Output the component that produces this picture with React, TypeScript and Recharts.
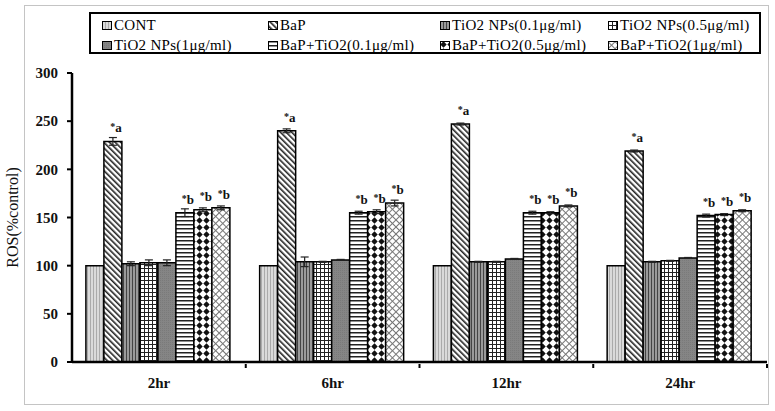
import { Bar, BarChart, ErrorBar, LabelList, XAxis, YAxis } from 'recharts';

const timePoints = ['2hr', '6hr', '12hr', '24hr'];

const seriesNames = [
  'CONT',
  'BaP',
  'TiO2 NPs(0.1μg/ml)',
  'TiO2 NPs(0.5μg/ml)',
  'TiO2 NPs(1μg/ml)',
  'BaP+TiO2(0.1μg/ml)',
  'BaP+TiO2(0.5μg/ml)',
  'BaP+TiO2(1μg/ml)',
];

// mean ROS (% of control) per series, one value per time point
const cont = [100, 100, 100, 100];
const bap = [229, 240, 247, 219];
const tio2Low = [102, 104, 104, 104];
const tio2Mid = [103, 104, 104, 105];
const tio2High = [103, 106, 107, 108];
const bapTio2Low = [155, 155, 155, 152];
const bapTio2Mid = [158, 156, 155, 153];
const bapTio2High = [160, 165, 162, 157];

// error bar half-heights
const contErr = [0, 0, 0, 0];
const bapErr = [4, 2, 1, 1];
const tio2LowErr = [2, 5, 0.5, 0.5];
const tio2MidErr = [3, 0.5, 0.5, 0.5];
const tio2HighErr = [3, 0.5, 0.5, 0.5];
const bapTio2LowErr = [4, 1.5, 1.5, 1.5];
const bapTio2MidErr = [2, 2, 1, 1];
const bapTio2HighErr = [2, 3, 1, 1];

const significance = ['', '*a', '', '', '', '*b', '*b', '*b'];

const values = [cont, bap, tio2Low, tio2Mid, tio2High, bapTio2Low, bapTio2Mid, bapTio2High];
const errors = [contErr, bapErr, tio2LowErr, tio2MidErr, tio2HighErr, bapTio2LowErr, bapTio2MidErr, bapTio2HighErr];

const data = timePoints.map((t, i) => {
  const row: Record<string, string | number> = { time: t };
  values.forEach((v, s) => {
    row['s' + s] = v[i];
    row['e' + s] = errors[s][i];
    row['l' + s] = significance[s];
  });
  return row;
});

const fills = [
  'url(#pCont)',
  'url(#pBap)',
  'url(#pVert)',
  'url(#pGrid)',
  'url(#pGray)',
  'url(#pHoriz)',
  'url(#pDots)',
  'url(#pCross)',
];

const serif = '"Liberation Serif", "Times New Roman", serif';

function Patterns() {
  return (
    <svg width={0} height={0} style={{ position: 'absolute' }}>
      <defs>
        <pattern id="pCont" width={3} height={3} patternUnits="userSpaceOnUse">
          <rect width={3} height={3} fill="#dadada" />
          <rect x={0} width={1} height={3} fill="#aaaaaa" />
        </pattern>
        <pattern id="pBap" width={4} height={4} patternUnits="userSpaceOnUse" patternTransform="rotate(-45)">
          <rect width={4} height={4} fill="#ffffff" />
          <rect x={0} width={1.6} height={4} fill="#222" />
        </pattern>
        <pattern id="pVert" width={3} height={3} patternUnits="userSpaceOnUse">
          <rect width={3} height={3} fill="#9a9a9a" />
          <rect x={0} width={1} height={3} fill="#444" />
        </pattern>
        <pattern id="pGrid" width={4} height={4} patternUnits="userSpaceOnUse">
          <rect width={4} height={4} fill="#ffffff" />
          <rect x={0} width={1} height={4} fill="#222" />
          <rect y={0} width={4} height={1} fill="#222" />
        </pattern>
        <pattern id="pGray" width={2} height={2} patternUnits="userSpaceOnUse">
          <rect width={2} height={2} fill="#858585" />
          <rect width={1} height={1} fill="#7a7a7a" />
        </pattern>
        <pattern id="pHoriz" width={4} height={4} patternUnits="userSpaceOnUse">
          <rect width={4} height={4} fill="#ffffff" />
          <rect y={0} width={4} height={1.5} fill="#222" />
        </pattern>
        <pattern id="pDots" width={7} height={7} patternUnits="userSpaceOnUse">
          <rect width={7} height={7} fill="#ffffff" />
          <path d="M3.5 0.3 L6.7 3.5 L3.5 6.7 L0.3 3.5 Z" fill="#111" />
        </pattern>
        <pattern id="pCross" width={5} height={5} patternUnits="userSpaceOnUse" patternTransform="rotate(45)">
          <rect width={5} height={5} fill="#ffffff" />
          <rect x={0} width={1} height={5} fill="#777" />
          <rect y={0} width={5} height={1} fill="#777" />
        </pattern>
      </defs>
    </svg>
  );
}

function LegendBox() {
  const cols = [102, 268, 440, 608];
  return (
    <div
      style={{
        position: 'absolute',
        left: 89,
        top: 12,
        width: 672,
        height: 42,
        border: '2px solid #000',
        boxSizing: 'border-box',
      }}
    >
      {seriesNames.map((name, i) => {
        const col = i % 4;
        const row = Math.floor(i / 4);
        return (
          <div
            key={name}
            style={{
              position: 'absolute',
              left: cols[col] - 91,
              top: row * 20 + 2,
              height: 18,
              display: 'flex',
              alignItems: 'center',
              fontFamily: serif,
              fontSize: 15,
              letterSpacing: 0.3,
              whiteSpace: 'nowrap',
              color: '#000',
            }}
          >
            <svg width={10} height={9} style={{ marginRight: 2 }}>
              <rect x={0.5} y={0.5} width={9} height={8} fill={fills[i]} stroke="#000" strokeWidth={1} />
            </svg>
            {name}
          </div>
        );
      })}
    </div>
  );
}

function SigLabel(props: any) {
  const { x, y, width, value } = props;
  if (!value) return null;
  return (
    <text
      x={x + width / 2 + 3}
      y={y - 9}
      textAnchor="middle"
      fontFamily={serif}
      fontSize={13}
      fontWeight="bold"
      fill="#111"
    >
      <tspan fontSize={10} dy={-2}>*</tspan>
      <tspan dy={2}>{String(value).slice(1)}</tspan>
    </text>
  );
}

// category label plus a small mark at the right edge of each category band
function TimeTick(props: any) {
  const { x, y, payload } = props;
  const half = payload && typeof payload.offset === 'number' ? payload.offset : 0;
  return (
    <g>
      {half > 0 && <line x1={x + half} x2={x + half} y1={y - 6} y2={y - 2} stroke="#000" strokeWidth={2} />}
      <text
        x={x}
        y={y + 18}
        textAnchor="middle"
        fontFamily={serif}
        fontSize={15}
        fontWeight="bold"
        fill="#111"
      >
        {payload.value}
      </text>
    </g>
  );
}

export default function App() {
  return (
    <div style={{ position: 'absolute', left: 0, top: 0, width: 775, height: 411, background: '#fff' }}>
      <Patterns />
      <div
        style={{
          position: 'absolute',
          left: 24,
          top: 5,
          width: 745,
          height: 400,
          border: '1px solid #c4c4c4',
          boxSizing: 'border-box',
        }}
      />
      <BarChart
        width={775}
        height={411}
        data={data}
        margin={{ top: 73, right: 8, left: 0, bottom: 19 }}
        barCategoryGap="8%"
        barGap={0}
      >
        <XAxis
          dataKey="time"
          height={30}
          axisLine={{ stroke: '#000', strokeWidth: 2.5 }}
          tickLine={false}
          tick={<TimeTick />}
        />
        <YAxis
          width={72}
          domain={[0, 300]}
          ticks={[0, 50, 100, 150, 200, 250, 300]}
          axisLine={{ stroke: '#000', strokeWidth: 2.5 }}
          tickLine={{ stroke: '#000', strokeWidth: 2 }}
          tickSize={5}
          tick={{ fontFamily: serif, fontSize: 15, fontWeight: 'bold', fill: '#111', dx: -7 }}
          label={{
            value: 'ROS(%control)',
            angle: -90,
            position: 'insideLeft',
            offset: 12,
            style: { fontFamily: serif, fontSize: 16, fill: '#111', textAnchor: 'middle' },
          }}
        />
        {seriesNames.map((name, s) => (
          <Bar
            key={name}
            dataKey={'s' + s}
            name={name}
            fill={fills[s]}
            stroke="#000"
            strokeWidth={1.5}
            isAnimationActive={false}
          >
            <ErrorBar dataKey={'e' + s} width={4} stroke="#222" strokeWidth={1.2} />
            <LabelList dataKey={'l' + s} content={SigLabel} />
          </Bar>
        ))}
      </BarChart>
      <LegendBox />
    </div>
  );
}
